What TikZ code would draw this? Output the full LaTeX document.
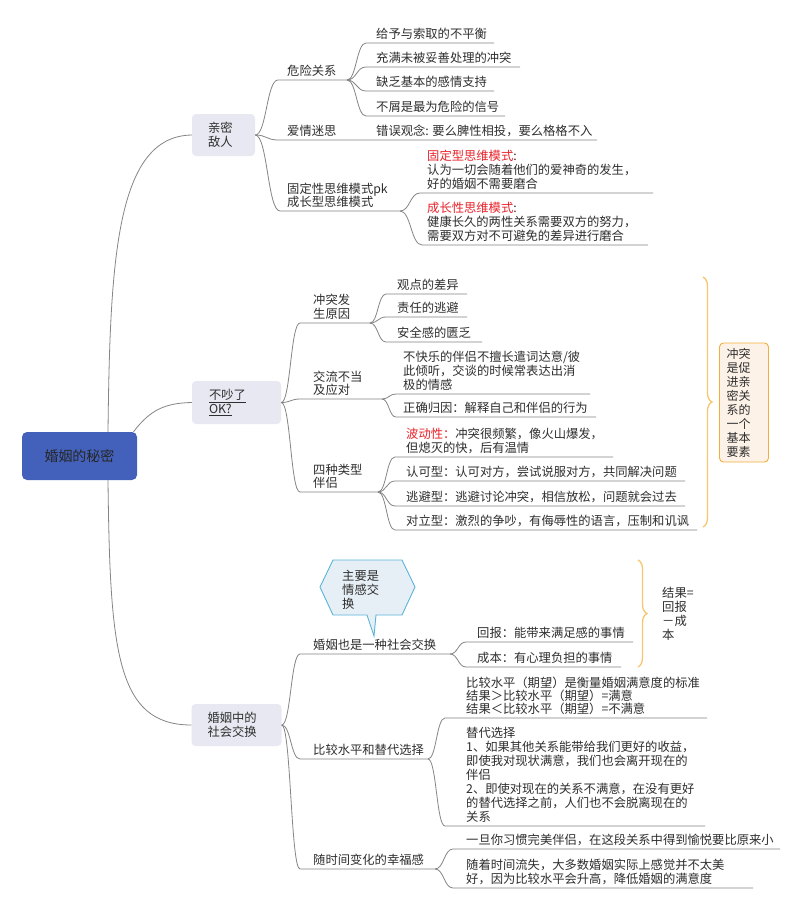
\documentclass[tikz,border=0pt]{standalone}
\usepackage{fontspec}
\setmainfont{Noto Sans CJK SC}
\usetikzlibrary{calc,decorations.pathreplacing}
\definecolor{lnc}{HTML}{858585}
\definecolor{txc}{HTML}{2E2E2E}
\definecolor{rootc}{HTML}{4361BA}
\definecolor{mainc}{HTML}{E8E8F2}
\definecolor{brc}{HTML}{F8C66E}
\definecolor{lbf}{HTML}{FDF2E8}
\definecolor{lbd}{HTML}{F2AE3C}
\definecolor{cof}{HTML}{E7EFF6}
\definecolor{cod}{HTML}{5AB4DA}
\definecolor{redc}{HTML}{E8222A}
\newcommand\mconn[3]{\draw[conn] let \p1=(#1), \p2=(#2) in (#1) .. controls ({0.5*\x1+0.5*\x2},\y1) and ({0.5*\x1+0.5*\x2},\y2) .. (#2) -- (#3);}
\begin{document}
\begin{tikzpicture}[x=1pt,y=-1pt,
  font=\fontsize{12.3}{14}\selectfont, text=txc,
  conn/.style={draw=lnc, line width=0.8pt},
  lbl/.style={anchor=south west, inner sep=0pt, align=left, text depth=0pt},
  mainbox/.style={fill=mainc, rounded corners=4pt, align=left, minimum height=42pt, font=\fontsize{12.3}{14.5}\selectfont},
  bracestyle/.style={draw=brc, line width=1.3pt, decorate, decoration={brace, amplitude=9pt}}]
\fill[white] (0,0) rectangle (800,911);
\useasboundingbox (0,0) rectangle (800,911);

% root
\node[fill=rootc, rounded corners=5pt, minimum width=115pt, minimum height=48pt, font=\fontsize{14}{16}\selectfont, text=black!85] (root) at (79.5,456) {婚姻的秘密};

% main nodes
\node[mainbox, text width=31pt, inner xsep=16pt] (m1) at (223.5,135) {亲密\\敌人};
\node[mainbox, text width=55pt, inner xsep=17pt, minimum height=43pt] (m2) at (236.5,402.5) {\underline{不吵了}\\\underline{OK?}};
\node[mainbox, text width=58pt, inner xsep=16pt] (m3) at (236.5,725) {婚姻中的\\社会交换};

\draw[conn] ([xshift=28.5pt]root.north) .. controls (110,260) and (116,136) .. (m1.west);
\draw[conn] ([xshift=54pt]root.north) .. controls (150,410) and (165,403) .. (m2.west);
\draw[conn] ([xshift=28.5pt]root.south) .. controls (110,650) and (116,725) .. (m3.west);

% ---------- group 1 ----------
\coordinate (c1s) at (278,80); \coordinate (c1e) at (347,80);
\coordinate (d1s) at (366,43); \coordinate (d1e) at (494,43);
\coordinate (d2s) at (366,67); \coordinate (d2e) at (520,67);
\coordinate (d3s) at (366,91); \coordinate (d3e) at (494,91);
\coordinate (d4s) at (366,116); \coordinate (d4e) at (505,116);
\coordinate (c2s) at (278,140); \coordinate (c2e) at (597,140);
\coordinate (c3s) at (280,211); \coordinate (c3e) at (400,211);
\coordinate (e1s) at (420,193); \coordinate (e1e) at (653,193);
\coordinate (e2s) at (422,245); \coordinate (e2e) at (648,245);

\mconn{m1.east}{c1s}{c1e}
\mconn{m1.east}{c2s}{c2e}
\mconn{m1.east}{c3s}{c3e}
\mconn{c1e}{d1s}{d1e}
\mconn{c1e}{d2s}{d2e}
\mconn{c1e}{d3s}{d3e}
\mconn{c1e}{d4s}{d4e}
\mconn{c3e}{e1s}{e1e}
\mconn{c3e}{e2s}{e2e}

\node[lbl] (c1t) at (287,76) {危险关系};
\node[lbl] (d1t) at (376,39) {给予与索取的不平衡};
\node[lbl] (d2t) at (376,63) {充满未被妥善处理的冲突};
\node[lbl] (d3t) at (376,87) {缺乏基本的感情支持};
\node[lbl] (d4t) at (376,112) {不屑是最为危险的信号};
\node[lbl] (c2t) at (287,136) {爱情迷思};
\node[lbl] (c2u) at (376,136) {错误观念: 要么脾性相投，要么格格不入};
\node[lbl, font=\fontsize{12.3}{13.5}\selectfont] (c3t) at (287,207) {固定性思维模式pk\\成长型思维模式};
\node[lbl] (e1t) at (427,189) {{\color{redc}固定型思维模式}:\\认为一切会随着他们的爱神奇的发生，\\好的婚姻不需要磨合};
\node[lbl] (e2t) at (427,241) {{\color{redc}成长性思维模式}:\\健康长久的两性关系需要双方的努力，\\需要双方对不可避免的差异进行磨合};

% ---------- group 2 ----------
\coordinate (f1s) at (300,323); \coordinate (f1e) at (370,323);
\coordinate (g1s) at (386,294); \coordinate (g1e) at (467,294);
\coordinate (g2s) at (386,317); \coordinate (g2e) at (467,317);
\coordinate (g3s) at (386,342); \coordinate (g3e) at (482,342);
\coordinate (f2s) at (300,399); \coordinate (f2e) at (382,399);
\coordinate (g4s) at (396,394); \coordinate (g4e) at (590,394);
\coordinate (g5s) at (396,417); \coordinate (g5e) at (596,417);
\coordinate (f3s) at (300,492); \coordinate (f3e) at (378,492);
\coordinate (g6s) at (395,457); \coordinate (g6e) at (613,457);
\coordinate (g7s) at (395,481); \coordinate (g7e) at (685,481);
\coordinate (g8s) at (395,506); \coordinate (g8e) at (685,506);
\coordinate (g9s) at (395,530); \coordinate (g9e) at (697,530);

\mconn{m2.east}{f1s}{f1e}
\mconn{m2.east}{f2s}{f2e}
\mconn{m2.east}{f3s}{f3e}
\mconn{f1e}{g1s}{g1e}
\mconn{f1e}{g2s}{g2e}
\mconn{f1e}{g3s}{g3e}
\mconn{f2e}{g4s}{g4e}
\mconn{f2e}{g5s}{g5e}
\mconn{f3e}{g6s}{g6e}
\mconn{f3e}{g7s}{g7e}
\mconn{f3e}{g8s}{g8e}
\mconn{f3e}{g9s}{g9e}

\node[lbl] (f1t) at (313,319) {冲突发\\生原因};
\node[lbl] (g1t) at (397,290) {观点的差异};
\node[lbl] (g2t) at (397,313) {责任的逃避};
\node[lbl] (g3t) at (397,338) {安全感的匮乏};
\node[lbl, font=\fontsize{12.3}{13}\selectfont] (f2t) at (313,395) {交流不当\\及应对};
\node[lbl] (g4t) at (403,390) {不快乐的伴侣不擅长遣词达意/彼\\此倾听，交谈的时候常表达出消\\极的情感};
\node[lbl] (g5t) at (403,413) {正确归因：解释自己和伴侣的行为};
\node[lbl, font=\fontsize{12.3}{13.5}\selectfont] (f3t) at (313,488) {四种类型\\伴侣};
\node[lbl] (g6t) at (406,453) {{\color{redc}波动性：}冲突很频繁，像火山爆发，\\但熄灭的快，后有温情};
\node[lbl] (g7t) at (406,477) {认可型：认可对方，尝试说服对方，共同解决问题};
\node[lbl] (g8t) at (406,502) {逃避型：逃避讨论冲突，相信放松，问题就会过去};
\node[lbl] (g9t) at (406,526) {对立型：激烈的争吵，有侮辱性的语言，压制和讥讽};

\coordinate (b1t) at (703,277); \coordinate (b1b) at (703,527);
\draw[bracestyle] (b1t) -- (b1b);
\node[fill=lbf, draw=lbd, line width=0.9pt, rounded corners=4pt, minimum width=49pt, minimum height=119pt, text width=35pt, inner xsep=7pt, align=left, font=\fontsize{12}{14}\selectfont] (l1) at (744,402.5) {冲突\\是促\\进亲\\密关\\系的\\一个\\基本\\要素};

% ---------- group 3 ----------
\coordinate (h1s) at (300,654); \coordinate (h1e) at (450,654);
\coordinate (i1s) at (466,642); \coordinate (i1e) at (633,642);
\coordinate (i2s) at (466,667); \coordinate (i2e) at (621,667);
\coordinate (h2s) at (300,759); \coordinate (h2e) at (428,759);
\coordinate (j1s) at (445,718); \coordinate (j1e) at (707,718);
\coordinate (j2s) at (445,826); \coordinate (j2e) at (705,826);
\coordinate (h3s) at (300,869); \coordinate (h3e) at (435,869);
\coordinate (k1s) at (453,849); \coordinate (k1e) at (780,849);
\coordinate (k2s) at (453,888); \coordinate (k2e) at (753,888);

\mconn{m3.east}{h1s}{h1e}
\mconn{m3.east}{h2s}{h2e}
\mconn{m3.east}{h3s}{h3e}
\mconn{h1e}{i1s}{i1e}
\mconn{h1e}{i2s}{i2e}
\mconn{h2e}{j1s}{j1e}
\mconn{h2e}{j2s}{j2e}
\mconn{h3e}{k1s}{k1e}
\mconn{h3e}{k2s}{k2e}

\node[lbl] (h1t) at (313,650) {婚姻也是一种社会交换};
\node[lbl] (i1t) at (477,638) {回报：能带来满足感的事情};
\node[lbl] (i2t) at (477,663) {成本：有心理负担的事情};
\node[lbl, font=\fontsize{12.3}{13}\selectfont] (j1t) at (466,714) {比较水平（期望）是衡量婚姻满意度的标准\\结果＞比较水平（期望）=满意\\结果＜比较水平（期望）=不满意};
\node[lbl] (j2t) at (466,822) {替代选择\\1、如果其他关系能带给我们更好的收益，\\即使我对现状满意，我们也会离开现在的\\伴侣\\2、即使对现在的关系不满意，在没有更好\\的替代选择之前，人们也不会脱离现在的\\关系};
\node[lbl] (h2t) at (313,755) {比较水平和替代选择};
\node[lbl] (h3t) at (313,865) {随时间变化的幸福感};
\node[lbl] (k1t) at (466,845) {一旦你习惯完美伴侣，在这段关系中得到愉悦要比原来小};
\node[lbl] (k2t) at (466,884) {随着时间流失，大多数婚姻实际上感觉并不太美\\好，因为比较水平会升高，降低婚姻的满意度};

\coordinate (b2t) at (638,560); \coordinate (b2b) at (638,667);
\draw[bracestyle] (b2t) -- (b2b);
\node[anchor=west, inner sep=0pt, align=left, font=\fontsize{12.3}{14}\selectfont] (l2) at (662,614) {结果=\\回报\\－成\\本};

% callout
\draw[fill=cof, draw=cod, line width=0.9pt] (320,587) -- (333,560) -- (402,560) -- (415,587) -- (402,615) -- (376,615) -- (374,636) -- (367,615) -- (333,615) -- cycle;
\node[anchor=west, inner sep=0pt, align=left, font=\fontsize{12.3}{14}\selectfont] (cot) at (342,590) {主要是\\情感交\\换};
\end{tikzpicture}
\end{document}
